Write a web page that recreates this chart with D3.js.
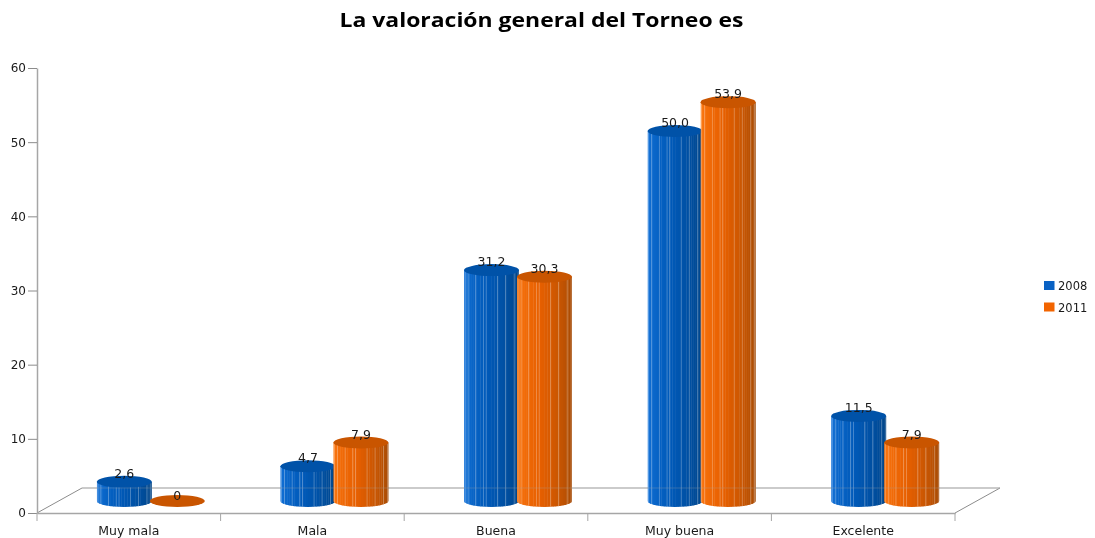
<!DOCTYPE html>
<html><head><meta charset="utf-8">
<script src="https://cdnjs.cloudflare.com/ajax/libs/d3/7.8.5/d3.min.js"></script>
<style>
html,body{margin:0;padding:0;background:#fff;overflow:hidden}
svg{display:block;filter:blur(0.35px)}
text{font-family:"DejaVu Sans",sans-serif;fill:#1a1a1a}
</style></head><body>
<script>
const categories = ["Muy mala","Mala","Buena","Muy buena","Excelente"];
const seriesNames = ["2008","2011"];
const values2008 = [2.6,4.7,31.2,50.0,11.5];
const values2011 = [0,7.9,30.3,53.9,7.9];
const labels2008 = ["2,6","4,7","31,2","50,0","11,5"];
const labels2011 = ["0","7,9","30,3","53,9","7,9"];
const yTicks = [0,10,20,30,40,50,60];
const palette = {
  "2008":{light:"#1474dc",mid:"#0059b8",dark:"#00417f",top:"#0052a8"},
  "2011":{light:"#ff7a12",mid:"#e65f00",dark:"#9c4806",top:"#c95500"}
};

const W=1095,H=538;
const svg=d3.select("body").append("svg").attr("width",W).attr("height",H);
const defs=svg.append("defs");

const floor={left:37,right:955,front:513,back:488,dx:45};
const y=d3.scaleLinear().domain([0,60]).range([floor.front,68]);
const yBar=d3.scaleLinear().domain([0,60]).range([501,57]);
const xAxisBand=d3.scaleBand().domain(categories).range([floor.left,floor.right]);
const xBar=d3.scaleBand().domain(categories).range([floor.left+22,floor.right+22]);
const xSeries=d3.scaleBand().domain(seriesNames).range([-53,53]);
const rx=27.5,ry=6;
const barX=d=>xBar(d.c)+xBar.bandwidth()/2+xSeries(d.s)+xSeries.bandwidth()/2;

svg.append("text").attr("x",541.5).attr("y",27).attr("text-anchor","middle")
  .attr("font-size",20).attr("font-weight",700).style("font-family","'Open Sans',sans-serif").style("fill","#000")
  .attr("textLength",404).attr("lengthAdjust","spacingAndGlyphs")
  .text("La valoración general del Torneo es");

// floor
const fl=svg.append("g").attr("fill","none");
fl.append("path").attr("stroke","#8c8c8c").attr("stroke-width",1)
  .attr("d",`M${floor.left},${floor.front}L${floor.left+floor.dx},${floor.back}M${floor.right},${floor.front}L${floor.right+floor.dx},${floor.back}`);
fl.append("line").attr("x1",floor.left+floor.dx).attr("x2",floor.right+floor.dx).attr("y1",floor.back).attr("y2",floor.back)
  .attr("stroke","#a6a6a6").attr("stroke-width",1.2);

// y axis
const gy=svg.append("g").attr("transform",`translate(${floor.left},0)`)
  .call(d3.axisLeft(y).tickValues(yTicks).tickSize(9).tickPadding(2).tickSizeOuter(0));
gy.select(".domain").attr("stroke","#a6a6a6").attr("stroke-width",1.5);
gy.selectAll(".tick line").attr("stroke","#8c8c8c");
gy.selectAll(".tick text").attr("font-size",12).style("font-family","'DejaVu Sans',sans-serif").style("fill","#1a1a1a");

// x axis
const gx=svg.append("g").attr("transform",`translate(0,${floor.front})`)
  .call(d3.axisBottom(xAxisBand).tickSize(0).tickPadding(13));
gx.select(".domain").attr("stroke","#a6a6a6").attr("stroke-width",1.5);
gx.selectAll(".tick text").attr("font-size",12.5).style("font-family","'DejaVu Sans',sans-serif").style("fill","#1a1a1a");
gx.selectAll("line.sep").data(d3.range(categories.length+1)).join("line").attr("class","sep")
  .attr("x1",i=>floor.left+i*xAxisBand.step()).attr("x2",i=>floor.left+i*xAxisBand.step())
  .attr("y1",0).attr("y2",8).attr("stroke","#a6a6a6").attr("stroke-width",1);

// cylinders
const nStrips=30;
const angles=d3.range(nStrips+1).map(i=>Math.PI-i*Math.PI/nStrips);
const shade=s=>d3.scaleLinear().domain([0,0.45,1]).range([palette[s].light,palette[s].mid,palette[s].dark]);
const highlightEvery=[2,5,9,12,13,17,20,24,27];

const rows=[];
categories.forEach((c,i)=>{
  rows.push({c,s:"2008",v:values2008[i],label:labels2008[i],id:i+"a"});
  rows.push({c,s:"2011",v:values2011[i],label:labels2011[i],id:i+"b"});
});
const bars=svg.append("g");
rows.forEach(d=>{
  const cx=barX(d);
  const top=yBar(d.v), base=yBar(0);
  const g=bars.append("g");
  if(d.v>0){
    const body=`M${cx-rx},${top}L${cx-rx},${base}A${rx},${ry} 0 0 0 ${cx+rx},${base}L${cx+rx},${top}Z`;
    defs.append("clipPath").attr("id","clip"+d.id).append("path").attr("d",body);
    const cg=g.append("g").attr("clip-path",`url(#clip${d.id})`);
    const col=shade(d.s);
    cg.selectAll("rect.s").data(d3.range(nStrips)).join("rect").attr("class","s")
      .attr("x",i=>cx+rx*Math.cos(angles[i]))
      .attr("width",i=>rx*(Math.cos(angles[i+1])-Math.cos(angles[i]))+0.4)
      .attr("y",top).attr("height",base-top+ry+1)
      .attr("fill",i=>col((i+0.5)/nStrips));
    cg.selectAll("rect.h").data(highlightEvery).join("rect").attr("class","h")
      .attr("x",i=>cx+rx*Math.cos(angles[i])).attr("width",0.9)
      .attr("y",top).attr("height",base-top+ry+1)
      .attr("fill","#fff").attr("opacity",.3);
  }
  g.append("ellipse").attr("cx",cx).attr("cy",top).attr("rx",rx).attr("ry",ry)
    .attr("fill",palette[d.s].top);
});
// back floor line showing faintly through the bars
svg.append("line").attr("x1",floor.left+floor.dx).attr("x2",floor.right+floor.dx).attr("y1",floor.back).attr("y2",floor.back)
  .attr("stroke","#a6a6a6").attr("stroke-width",1).attr("opacity",.3);
// value labels
svg.append("g").selectAll("text").data(rows).join("text")
  .attr("x",barX)
  .attr("y",d=>yBar(d.v)-(d.v>0?4:1))
  .attr("text-anchor","middle").attr("font-size",12.5).text(d=>d.label);

// legend
const lg=svg.append("g").selectAll("g").data(seriesNames).join("g")
  .attr("transform",(s,i)=>`translate(1044,${281+i*21.5})`);
lg.append("rect").attr("width",10.5).attr("height",9).attr("fill",s=>s==="2008"?"#0a62c4":"#f26400");
lg.append("text").attr("x",14).attr("y",9).attr("font-size",11.5).text(s=>s);
</script>
</body></html>
